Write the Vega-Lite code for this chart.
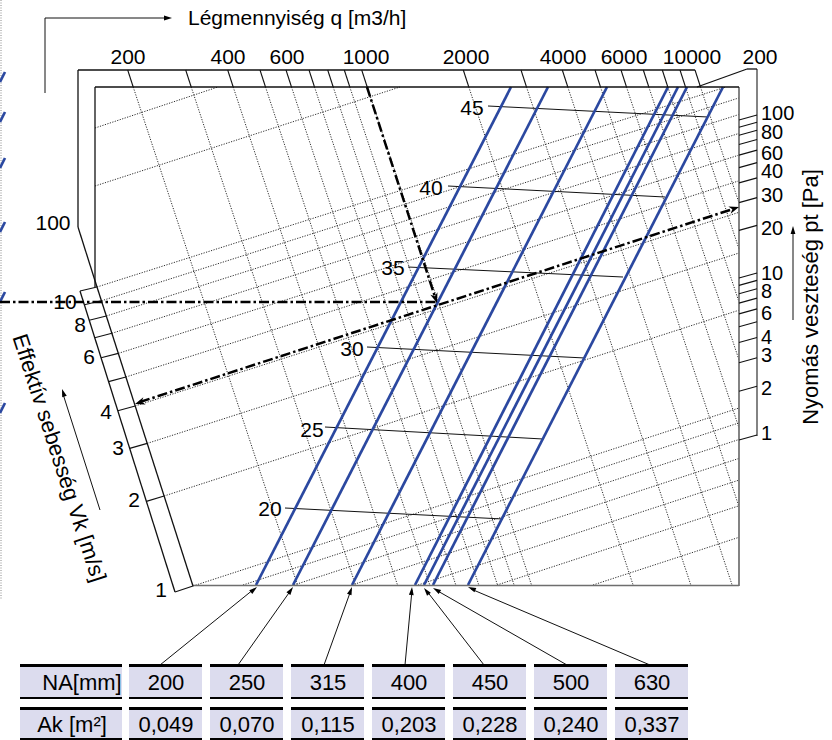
{
  "$schema": "https://vega.github.io/schema/vega-lite/v6.json",
  "width": 832,
  "height": 740,
  "padding": 0,
  "autosize": {"type": "none"},
  "background": "white",
  "config": {"view": {"stroke": null}, "text": {"font": "Liberation Sans", "color": "black"}},
  "datasets": {
    "segments": [
      {"kind":"grid","x":133.2,"y":87,"x2":297.5,"y2":585},
      {"kind":"grid","x":191.2,"y":87,"x2":355.5,"y2":585},
      {"kind":"grid","x":233.2,"y":87,"x2":397.5,"y2":585},
      {"kind":"grid","x":265.5,"y":87,"x2":429.8,"y2":585},
      {"kind":"grid","x":291.5,"y":87,"x2":455.8,"y2":585},
      {"kind":"grid","x":314.5,"y":87,"x2":478.8,"y2":585},
      {"kind":"grid","x":333.2,"y":87,"x2":497.5,"y2":585},
      {"kind":"grid","x":349.8,"y":87,"x2":514.1,"y2":585},
      {"kind":"grid","x":367.2,"y":87,"x2":531.5,"y2":585},
      {"kind":"grid","x":468.8,"y":87,"x2":633.1,"y2":585},
      {"kind":"grid","x":526.5,"y":87,"x2":690.8,"y2":585},
      {"kind":"grid","x":567.8,"y":87,"x2":732.1,"y2":585},
      {"kind":"grid","x":600.5,"y":87,"x2":739,"y2":506.7},
      {"kind":"grid","x":626.5,"y":87,"x2":739,"y2":428},
      {"kind":"grid","x":648.8,"y":87,"x2":739,"y2":360},
      {"kind":"grid","x":667.8,"y":87,"x2":739,"y2":302},
      {"kind":"grid","x":685.5,"y":87,"x2":739,"y2":249},
      {"kind":"grid","x":700.5,"y":87,"x2":739,"y2":203},
      {"kind":"grid","x":95,"y":128,"x2":218,"y2":87},
      {"kind":"grid","x":95,"y":186,"x2":400,"y2":87},
      {"kind":"grid","x":97,"y":287,"x2":726,"y2":87},
      {"kind":"grid","x":101.4,"y":300.8,"x2":739,"y2":97.9},
      {"kind":"grid","x":106.3,"y":316,"x2":739,"y2":114.5},
      {"kind":"grid","x":111.9,"y":333.3,"x2":739,"y2":133.4},
      {"kind":"grid","x":118.3,"y":353.4,"x2":739,"y2":155.1},
      {"kind":"grid","x":125.9,"y":377,"x2":739,"y2":180.8},
      {"kind":"grid","x":135.2,"y":406,"x2":739,"y2":212.3},
      {"kind":"grid","x":147.2,"y":443.4,"x2":739,"y2":253},
      {"kind":"grid","x":164.1,"y":496,"x2":739,"y2":310.2},
      {"kind":"grid","x":193,"y":586,"x2":739,"y2":408},
      {"kind":"grid","x":243,"y":585,"x2":739,"y2":422.9},
      {"kind":"grid","x":294,"y":585,"x2":739,"y2":439.5},
      {"kind":"grid","x":352,"y":585,"x2":739,"y2":458.4},
      {"kind":"grid","x":418,"y":585,"x2":739,"y2":480.1},
      {"kind":"grid","x":497,"y":585,"x2":739,"y2":505.8},
      {"kind":"grid","x":593,"y":585,"x2":739,"y2":537.3},
      {"kind":"edge","x":1,"y":0,"x2":1,"y2":600},

      {"kind":"blue","x":256,"y":585,"x2":511,"y2":87},
      {"kind":"blue","x":293,"y":585,"x2":548,"y2":87},
      {"kind":"blue","x":352,"y":585,"x2":607,"y2":87},
      {"kind":"blue","x":415,"y":585,"x2":668,"y2":87},
      {"kind":"blue","x":424,"y":585,"x2":678,"y2":87},
      {"kind":"blue","x":433,"y":585,"x2":687,"y2":87},
      {"kind":"blue","x":468,"y":585,"x2":723,"y2":87},
      {"kind":"blue","x":0,"y":82,"x2":5,"y2":72},
      {"kind":"blue","x":0,"y":122,"x2":5,"y2":112},
      {"kind":"blue","x":0,"y":168,"x2":5,"y2":158},
      {"kind":"blue","x":0,"y":232,"x2":5,"y2":222},
      {"kind":"blue","x":0,"y":302,"x2":5,"y2":292},
      {"kind":"blue","x":0,"y":413,"x2":5,"y2":403},

      {"kind":"frame","x":78,"y":70,"x2":695,"y2":70},
      {"kind":"frame","x":78,"y":70,"x2":78,"y2":227},
      {"kind":"frame","x":78,"y":227,"x2":97,"y2":287},
      {"kind":"frame","x":95,"y":87,"x2":739,"y2":87},
      {"kind":"frame","x":95,"y":87,"x2":95,"y2":287},
      {"kind":"frame","x":80,"y":291,"x2":175,"y2":592},
      {"kind":"frame","x":97,"y":287,"x2":193,"y2":586},
      {"kind":"frame","x":697,"y":87,"x2":747,"y2":69},
      {"kind":"frame","x":747,"y":69,"x2":757,"y2":69},

      {"kind":"gray","x":739,"y":87,"x2":739,"y2":586},
      {"kind":"gray","x":193,"y":585.5,"x2":739,"y2":585.5},
      {"kind":"gray","x":757,"y":69,"x2":757,"y2":436},

      {"kind":"tick","x":127.7,"y":70,"x2":133.2,"y2":87},
      {"kind":"tick","x":185.7,"y":70,"x2":191.2,"y2":87},
      {"kind":"tick","x":227.7,"y":70,"x2":233.2,"y2":87},
      {"kind":"tick","x":260,"y":70,"x2":265.5,"y2":87},
      {"kind":"tick","x":286,"y":70,"x2":291.5,"y2":87},
      {"kind":"tick","x":309,"y":70,"x2":314.5,"y2":87},
      {"kind":"tick","x":327.7,"y":70,"x2":333.2,"y2":87},
      {"kind":"tick","x":344.3,"y":70,"x2":349.8,"y2":87},
      {"kind":"tick","x":361.7,"y":70,"x2":367.2,"y2":87},
      {"kind":"tick","x":463.3,"y":70,"x2":468.8,"y2":87},
      {"kind":"tick","x":521,"y":70,"x2":526.5,"y2":87},
      {"kind":"tick","x":562.3,"y":70,"x2":567.8,"y2":87},
      {"kind":"tick","x":595,"y":70,"x2":600.5,"y2":87},
      {"kind":"tick","x":621,"y":70,"x2":626.5,"y2":87},
      {"kind":"tick","x":643.3,"y":70,"x2":648.8,"y2":87},
      {"kind":"tick","x":662.3,"y":70,"x2":667.8,"y2":87},
      {"kind":"tick","x":680,"y":70,"x2":685.5,"y2":87},
      {"kind":"tick","x":695,"y":70,"x2":700.5,"y2":87},
      {"kind":"tick","x":739,"y":440,"x2":757,"y2":435},
      {"kind":"tick","x":739,"y":391.2,"x2":757,"y2":386.2},
      {"kind":"tick","x":739,"y":362.7,"x2":757,"y2":357.7},
      {"kind":"tick","x":739,"y":342.5,"x2":757,"y2":337.5},
      {"kind":"tick","x":739,"y":326.8,"x2":757,"y2":321.8},
      {"kind":"tick","x":739,"y":313.9,"x2":757,"y2":308.9},
      {"kind":"tick","x":739,"y":303.1,"x2":757,"y2":298.1},
      {"kind":"tick","x":739,"y":293.7,"x2":757,"y2":288.7},
      {"kind":"tick","x":739,"y":285.4,"x2":757,"y2":280.4},
      {"kind":"tick","x":739,"y":278,"x2":757,"y2":273},
      {"kind":"tick","x":739,"y":230.4,"x2":757,"y2":225.4},
      {"kind":"tick","x":739,"y":202.6,"x2":757,"y2":197.6},
      {"kind":"tick","x":739,"y":182.9,"x2":757,"y2":177.9},
      {"kind":"tick","x":739,"y":167.6,"x2":757,"y2":162.6},
      {"kind":"tick","x":739,"y":155.1,"x2":757,"y2":150.1},
      {"kind":"tick","x":739,"y":144.5,"x2":757,"y2":139.5},
      {"kind":"tick","x":739,"y":135.3,"x2":757,"y2":130.3},
      {"kind":"tick","x":739,"y":127.2,"x2":757,"y2":122.2},
      {"kind":"tick","x":739,"y":120,"x2":757,"y2":115},
      {"kind":"tick","x":146.4,"y":501.4,"x2":164.1,"y2":496},
      {"kind":"tick","x":129.7,"y":448.4,"x2":147.2,"y2":443.4},
      {"kind":"tick","x":117.8,"y":410.8,"x2":135.2,"y2":406},
      {"kind":"tick","x":108.6,"y":381.6,"x2":125.9,"y2":377},
      {"kind":"tick","x":101.1,"y":357.8,"x2":118.3,"y2":353.4},
      {"kind":"tick","x":94.7,"y":337.7,"x2":111.9,"y2":333.3},
      {"kind":"tick","x":89.2,"y":320.2,"x2":106.3,"y2":316},
      {"kind":"tick","x":84.4,"y":304.8,"x2":101.4,"y2":300.8},
      {"kind":"tick","x":80,"y":291,"x2":97,"y2":287},
      {"kind":"tick","x":175,"y":592,"x2":193,"y2":586},

      {"kind":"leader","x":488,"y":106,"x2":708,"y2":117},
      {"kind":"leader","x":448,"y":186,"x2":665,"y2":197},
      {"kind":"leader","x":408,"y":267,"x2":623,"y2":277},
      {"kind":"leader","x":367,"y":347,"x2":585,"y2":358},
      {"kind":"leader","x":325,"y":427,"x2":543,"y2":439},
      {"kind":"leader","x":285,"y":508,"x2":503,"y2":519},
      {"kind":"leader","x":160,"y":665,"x2":254,"y2":589},
      {"kind":"leader","x":238,"y":665,"x2":291,"y2":590},
      {"kind":"leader","x":324,"y":665,"x2":351,"y2":590},
      {"kind":"leader","x":405,"y":665,"x2":412,"y2":590},
      {"kind":"leader","x":484,"y":665,"x2":426,"y2":590},
      {"kind":"leader","x":567,"y":665,"x2":436,"y2":590},
      {"kind":"leader","x":650,"y":665,"x2":471,"y2":589},
      {"kind":"leader","x":45,"y":93,"x2":45,"y2":18},
      {"kind":"leader","x":45,"y":18,"x2":165,"y2":18},
      {"kind":"leader","x":793,"y":320,"x2":793,"y2":232},
      {"kind":"leader","x":100,"y":510,"x2":63,"y2":394},

      {"kind":"dash","x":0,"y":302,"x2":437,"y2":302},
      {"kind":"dash","x":367,"y":87,"x2":435,"y2":297},
      {"kind":"dash","x":140,"y":402,"x2":733,"y2":209}
    ],
    "heads": [
      {"kind":"bold","x":437,"y":303,"dir":162},
      {"kind":"bold","x":135,"y":404,"dir":252},
      {"kind":"bold","x":739,"y":207,"dir":72},
      {"kind":"thin","x":172,"y":18,"dir":90},
      {"kind":"thin","x":793,"y":226,"dir":0},
      {"kind":"thin","x":62,"y":389,"dir":342},
      {"kind":"thin","x":257,"y":587,"dir":51},
      {"kind":"thin","x":293,"y":587,"dir":35},
      {"kind":"thin","x":352,"y":587,"dir":20},
      {"kind":"thin","x":412,"y":587,"dir":5},
      {"kind":"thin","x":424,"y":588,"dir":322},
      {"kind":"thin","x":433,"y":588,"dir":300},
      {"kind":"thin","x":468,"y":587,"dir":293}
    ],
    "cells": [
      {"x":20,"x2":122,"y":664,"y2":699,"yi":667,"yi2":697},
      {"x":129,"x2":202,"y":664,"y2":699,"yi":667,"yi2":697},
      {"x":210,"x2":283,"y":664,"y2":699,"yi":667,"yi2":697},
      {"x":291,"x2":364,"y":664,"y2":699,"yi":667,"yi2":697},
      {"x":372,"x2":445,"y":664,"y2":699,"yi":667,"yi2":697},
      {"x":453,"x2":526,"y":664,"y2":699,"yi":667,"yi2":697},
      {"x":534,"x2":607,"y":664,"y2":699,"yi":667,"yi2":697},
      {"x":615,"x2":688,"y":664,"y2":699,"yi":667,"yi2":697},
      {"x":20,"x2":122,"y":707,"y2":740,"yi":710,"yi2":738},
      {"x":129,"x2":202,"y":707,"y2":740,"yi":710,"yi2":738},
      {"x":210,"x2":283,"y":707,"y2":740,"yi":710,"yi2":738},
      {"x":291,"x2":364,"y":707,"y2":740,"yi":710,"yi2":738},
      {"x":372,"x2":445,"y":707,"y2":740,"yi":710,"yi2":738},
      {"x":453,"x2":526,"y":707,"y2":740,"yi":710,"yi2":738},
      {"x":534,"x2":607,"y":707,"y2":740,"yi":710,"yi2":738},
      {"x":615,"x2":688,"y":707,"y2":740,"yi":710,"yi2":738}
    ],
    "labelsCenter": [
      {"x":128,"y":64,"t":"200"},
      {"x":228,"y":64,"t":"400"},
      {"x":287,"y":64,"t":"600"},
      {"x":366,"y":64,"t":"1000"},
      {"x":466,"y":64,"t":"2000"},
      {"x":563,"y":64,"t":"4000"},
      {"x":624,"y":64,"t":"6000"},
      {"x":692,"y":64,"t":"10000"},
      {"x":760,"y":64,"t":"200"},
      {"x":53,"y":230,"t":"100"},
      {"x":65,"y":309,"t":"10"},
      {"x":80,"y":332,"t":"8"},
      {"x":89,"y":364,"t":"6"},
      {"x":106,"y":419,"t":"4"},
      {"x":118,"y":455,"t":"3"},
      {"x":134,"y":507,"t":"2"},
      {"x":161,"y":597,"t":"1"},
      {"x":472,"y":115,"t":"45"},
      {"x":431,"y":195,"t":"40"},
      {"x":393,"y":275,"t":"35"},
      {"x":352,"y":356,"t":"30"},
      {"x":312,"y":437,"t":"25"},
      {"x":270,"y":516,"t":"20"}
    ],
    "title": [
      {"x":188,"y":25,"t":"Légmennyiség q [m3/h]"}
    ],
    "labelsLeft": [
      {"x":761,"y":120,"t":"100"},
      {"x":761,"y":139,"t":"80"},
      {"x":761,"y":160,"t":"60"},
      {"x":761,"y":178,"t":"40"},
      {"x":761,"y":202,"t":"30"},
      {"x":761,"y":235,"t":"20"},
      {"x":761,"y":280,"t":"10"},
      {"x":761,"y":298,"t":"8"},
      {"x":761,"y":320,"t":"6"},
      {"x":761,"y":344,"t":"4"},
      {"x":761,"y":362,"t":"3"},
      {"x":761,"y":395,"t":"2"},
      {"x":761,"y":440,"t":"1"}
    ],
    "table": [
      {"x":82,"y":690,"t":"NA[mm]"},
      {"x":166,"y":690,"t":"200"},
      {"x":247,"y":690,"t":"250"},
      {"x":328,"y":690,"t":"315"},
      {"x":409,"y":690,"t":"400"},
      {"x":490,"y":690,"t":"450"},
      {"x":571,"y":690,"t":"500"},
      {"x":652,"y":690,"t":"630"},
      {"x":72,"y":732,"t":"Ak [m²]"},
      {"x":166,"y":732,"t":"0,049"},
      {"x":247,"y":732,"t":"0,070"},
      {"x":328,"y":732,"t":"0,115"},
      {"x":409,"y":732,"t":"0,203"},
      {"x":490,"y":732,"t":"0,228"},
      {"x":571,"y":732,"t":"0,240"},
      {"x":652,"y":732,"t":"0,337"}
    ],
    "rotated": [
      {"x":811,"y":297,"t":"Nyomás veszteség  pt [Pa]","a":270},
      {"x":59,"y":458,"t":"Effektív sebesség Vk [m/s]","a":72}
    ]
  },
  "encoding": {
    "x": {"field":"x","type":"quantitative","scale":{"domain":[0,832],"nice":false,"zero":false},"axis":null},
    "y": {"field":"y","type":"quantitative","scale":{"domain":[0,740],"nice":false,"zero":false,"reverse":true},"axis":null}
  },
  "layer": [
    {"data":{"name":"segments"},"transform":[{"filter":"datum.kind === 'grid'"}],
     "mark":{"type":"rule","stroke":"#2e2e2e","strokeWidth":1,"strokeDash":[1.2,1.4]},
     "encoding":{"x2":{"field":"x2"},"y2":{"field":"y2"}}},
    {"data":{"name":"segments"},"transform":[{"filter":"datum.kind === 'edge'"}],
     "mark":{"type":"rule","stroke":"#888888","strokeWidth":1,"strokeDash":[1,1.5]},
     "encoding":{"x2":{"field":"x2"},"y2":{"field":"y2"}}},
    {"data":{"name":"segments"},"transform":[{"filter":"datum.kind === 'leader'"}],
     "mark":{"type":"rule","stroke":"#111111","strokeWidth":1},
     "encoding":{"x2":{"field":"x2"},"y2":{"field":"y2"}}},
    {"data":{"name":"segments"},"transform":[{"filter":"datum.kind === 'blue'"}],
     "mark":{"type":"rule","stroke":"#2b48a0","strokeWidth":2.7},
     "encoding":{"x2":{"field":"x2"},"y2":{"field":"y2"}}},
    {"data":{"name":"segments"},"transform":[{"filter":"datum.kind === 'gray'"}],
     "mark":{"type":"rule","stroke":"#6e6e6e","strokeWidth":1.7},
     "encoding":{"x2":{"field":"x2"},"y2":{"field":"y2"}}},
    {"data":{"name":"segments"},"transform":[{"filter":"datum.kind === 'frame'"}],
     "mark":{"type":"rule","stroke":"#111111","strokeWidth":1.3},
     "encoding":{"x2":{"field":"x2"},"y2":{"field":"y2"}}},
    {"data":{"name":"segments"},"transform":[{"filter":"datum.kind === 'tick'"}],
     "mark":{"type":"rule","stroke":"#111111","strokeWidth":1.1},
     "encoding":{"x2":{"field":"x2"},"y2":{"field":"y2"}}},
    {"data":{"name":"segments"},"transform":[{"filter":"datum.kind === 'dash'"}],
     "mark":{"type":"rule","stroke":"#000000","strokeWidth":2.5,"strokeDash":[10,3,2.5,3]},
     "encoding":{"x2":{"field":"x2"},"y2":{"field":"y2"}}},
    {"data":{"name":"heads"},"transform":[{"filter":"datum.kind === 'thin'"}],
     "mark":{"type":"point","shape":"M0,0L0.6,2L-0.6,2Z","filled":true,"fill":"#000000","stroke":null,"opacity":1,"size":64},
     "encoding":{"angle":{"field":"dir","type":"quantitative","scale":null}}},
    {"data":{"name":"heads"},"transform":[{"filter":"datum.kind === 'bold'"}],
     "mark":{"type":"point","shape":"M0,0L0.75,2L0,1.4L-0.75,2Z","filled":true,"fill":"#000000","stroke":null,"opacity":1,"size":100},
     "encoding":{"angle":{"field":"dir","type":"quantitative","scale":null}}},
    {"data":{"name":"cells"},
     "mark":{"type":"rect","fill":"#000000"},
     "encoding":{"x2":{"field":"x2"},"y2":{"field":"y2"}}},
    {"data":{"name":"cells"},
     "mark":{"type":"rect","fill":"#dcdcee"},
     "encoding":{"y":{"field":"yi","type":"quantitative"},"y2":{"field":"yi2"},"x2":{"field":"x2"}}},
    {"data":{"name":"labelsCenter"},
     "mark":{"type":"text","fontSize":21,"align":"center","baseline":"alphabetic","font":"Liberation Sans"},
     "encoding":{"text":{"field":"t","type":"nominal"}}},
    {"data":{"name":"title"},
     "mark":{"type":"text","fontSize":21,"align":"left","baseline":"alphabetic","font":"Liberation Sans"},
     "encoding":{"text":{"field":"t","type":"nominal"}}},
    {"data":{"name":"labelsLeft"},
     "mark":{"type":"text","fontSize":20,"align":"left","baseline":"alphabetic","font":"Liberation Sans"},
     "encoding":{"text":{"field":"t","type":"nominal"}}},
    {"data":{"name":"table"},
     "mark":{"type":"text","fontSize":22,"align":"center","baseline":"alphabetic","font":"Liberation Sans"},
     "encoding":{"text":{"field":"t","type":"nominal"}}},
    {"data":{"name":"rotated"},
     "mark":{"type":"text","fontSize":22,"align":"center","baseline":"middle","font":"Liberation Sans"},
     "encoding":{"text":{"field":"t","type":"nominal"},"angle":{"field":"a","type":"quantitative","scale":null}}}
  ]
}
